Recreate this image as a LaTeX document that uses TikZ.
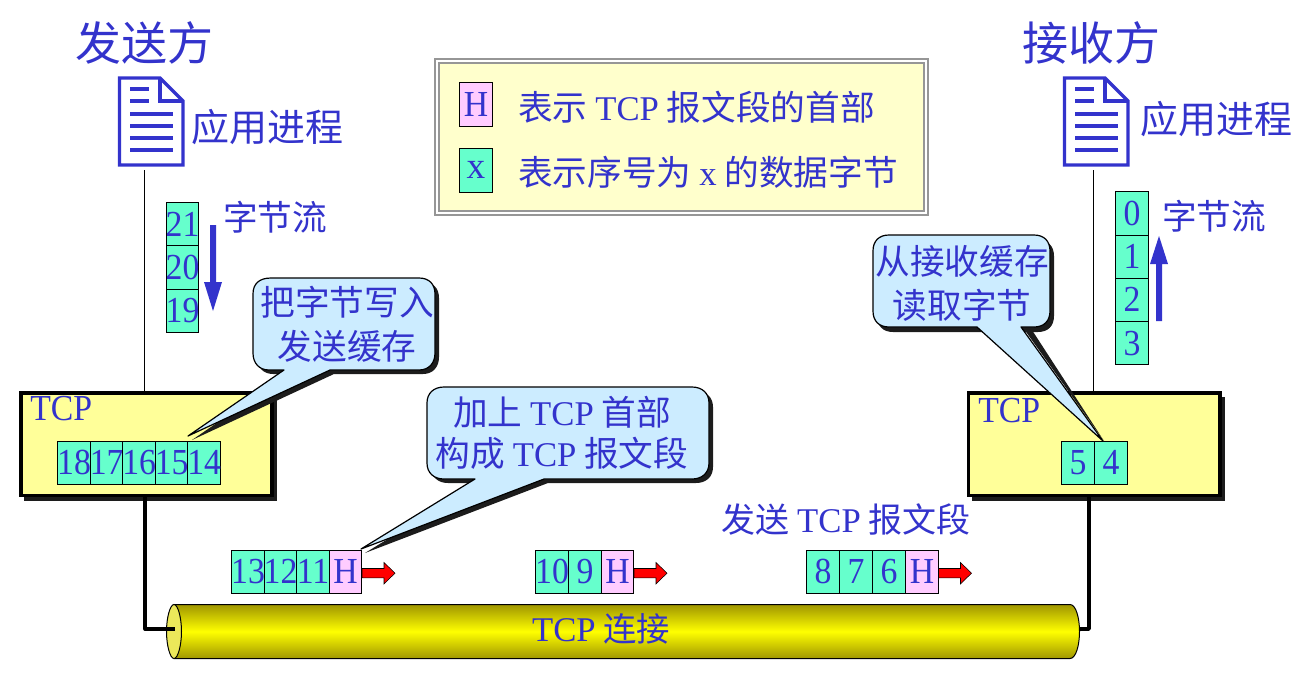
\documentclass[tikz,border=0pt]{standalone}
\usepackage{fontspec}
\setmainfont{Liberation Serif}
\newfontfamily\cjk{Noto Sans CJK SC}
\newfontfamily\narrow[FakeStretch=0.92]{Liberation Serif}
\usetikzlibrary{shadings}
\definecolor{txtblue}{RGB}{51,51,204}
\definecolor{cellgreen}{RGB}{102,255,204}
\definecolor{hpink}{RGB}{255,204,255}
\definecolor{tcpyellow}{RGB}{255,255,153}
\definecolor{legyellow}{RGB}{255,255,204}
\definecolor{callblue}{RGB}{204,236,255}
\definecolor{shadowk}{RGB}{28,28,28}
\definecolor{legborder}{RGB}{150,150,150}
\definecolor{cyl}{RGB}{255,255,0}
\definecolor{cyldark}{RGB}{160,150,0}
\definecolor{cylface}{RGB}{236,232,90}
\tikzset{
 x=0.75pt,y=-0.75pt,
 cell/.style={draw=black,line width=0.75pt,fill=cellgreen,minimum width=24.4pt,minimum height=32.4pt,inner xsep=-2pt,inner ysep=0pt,text=txtblue,font=\narrow\fontsize{27.5pt}{27.5pt}\selectfont,anchor=center},
 hcell/.style={cell,fill=hpink},
 lab/.style={text=txtblue,inner sep=0pt,anchor=center},
 zh/.style={lab,font=\cjk\fontsize{26pt}{33pt}\selectfont,align=center},
 big/.style={lab,font=\cjk\fontsize{34.5pt}{34.5pt}\selectfont},
 tcpbox/.style={draw=black,line width=2.7pt,fill=tcpyellow},
 docline/.style={draw=txtblue,line width=2.4pt},
 thin line/.style={draw=black,line width=0.75pt},
 thick wire/.style={draw=black,line width=2.8pt,line join=round},
 redarrow/.style={draw=black,line width=0.4pt,fill=red},
 bluearrow/.style={fill=txtblue,draw=none},
 call/.style={draw=black,line width=0.9pt,fill=callblue,line join=round},
 shad/.style={fill=shadowk,draw=none}
}
\newcommand{\doc}[1]{%
 \begin{scope}[xshift=#1*0.75pt]
 \path[draw=txtblue,line width=2.6pt,fill=white,line join=miter] (119.5,78) -- (160,78) -- (183,101) -- (183,165) -- (119.5,165) -- cycle;
 \path[draw=txtblue,line width=2.6pt] (160,78) -- (160,101) -- (183,101);
 \path[docline] (130,89) -- (148.5,89);
 \path[docline] (130,101) -- (148.5,101);
 \path[docline] (130,114) -- (173,114);
 \path[docline] (130,126) -- (173,126);
 \path[docline] (130,138) -- (173,138);
 \path[docline] (130,150) -- (173,150);
 \end{scope}}
\newcommand{\calla}{(271,278) -- (419,278) .. controls (429,278) and (435,284) .. (435,294) -- (435,353) .. controls (435,363) and (429,370) .. (419,370) -- (330,370) -- (188,436) -- (284,370) -- (269,370) .. controls (259,370) and (253,363) .. (253,353) -- (253,294) .. controls (253,284) and (259,278) .. (271,278) -- cycle}
\newcommand{\callb}{(444,387) -- (692,387) .. controls (702,387) and (709,393) .. (709,403) -- (709,463) .. controls (709,473) and (702,479) .. (692,479) -- (544,479) -- (361,549) -- (475,479) -- (444,479) .. controls (434,479) and (427,473) .. (427,463) -- (427,403) .. controls (427,393) and (434,387) .. (444,387) -- cycle}
\newcommand{\callc}{(889,235) -- (1034,235) .. controls (1044,235) and (1050,241) .. (1050,251) -- (1050,311) .. controls (1050,321) and (1044,327) .. (1034,327) -- (1021,327) -- (1103,441) -- (977,327) -- (889,327) .. controls (879,327) and (873,321) .. (873,311) -- (873,251) .. controls (873,241) and (879,235) .. (889,235) -- cycle}
\begin{document}
\begin{tikzpicture}
\useasboundingbox (0,0) rectangle (1303,679);
% titles
\node[big] (tsend) at (144.5,43) {发送方};
\node[big] (trecv) at (1091,43) {接收方};
\doc{0}
\doc{945}
\node[zh,font=\cjk\fontsize{28.5pt}{33pt}\selectfont] (asend) at (267,127) {应用进程};
\node[zh,font=\cjk\fontsize{28.5pt}{33pt}\selectfont] (arecv) at (1216,119) {应用进程};
% legend
\path[draw=legborder,line width=1.5pt] (435,59) rectangle (928,215);
\path[draw=legborder,line width=1.5pt,fill=legyellow] (439,63) rectangle (924,211);
\node[hcell,minimum height=33pt] (lh) at (476,104.5) {H};
\node[cell,minimum height=33pt,font=\rmfamily\fontsize{28pt}{28pt}\selectfont] (lx) at (476,170) {x};
\node[lab,font=\cjk\fontsize{26pt}{30pt}\selectfont,anchor=west] (l1) at (518,107.5) {表示 {\rmfamily TCP} 报文段的首部};
\node[lab,font=\cjk\fontsize{26pt}{30pt}\selectfont,anchor=west] (l2) at (518,172.5) {表示序号为 {\rmfamily x} 的数据字节};
% vertical thin lines
\coordinate (ls1) at (144.5,170); \coordinate (ls2) at (144.5,391);
\coordinate (lr1) at (1093.5,170); \coordinate (lr2) at (1093.5,391);
\path[thin line] (ls1) -- (ls2);
\path[thin line] (lr1) -- (lr2);
% wire points
\coordinate (w1) at (145.3,497); \coordinate (w2) at (145.3,629); \coordinate (w3) at (175,629);
\coordinate (w4) at (1089,497); \coordinate (w5) at (1089,629); \coordinate (w6) at (1079,629);
% tcp boxes
\path[shad] (24,397) rectangle (276.7,500.7);
\path[tcpbox] (20.8,392.7) rectangle (272,495.3);
\path[shad] (972,397) rectangle (1225,500.7);
\path[tcpbox] (968.3,392.7) rectangle (1220,495.3);
\path[thick wire] (w4) -- (w5) -- (w6);
\path[thick wire] (w1) -- (w2) -- (w3);
% cylinder
\path[top color=cyldark,bottom color=cyldark,middle color=cyl,draw=black,line width=0.75pt]
 (174,604.5) -- (1070,604.5) .. controls (1076,604.5) and (1079.5,618) .. (1079.5,631.5) .. controls (1079.5,645) and (1076,658.5) .. (1070,658.5) -- (174,658.5) -- cycle;
\path[draw=black,line width=0.75pt,fill=cylface] (174,604.5) .. controls (170,604.5) and (166.5,618) .. (166.5,631.5) .. controls (166.5,645) and (170,658.5) .. (174,658.5) .. controls (178,658.5) and (181.5,645) .. (181.5,631.5) .. controls (181.5,618) and (178,604.5) .. (174,604.5) -- cycle;
\path[thick wire] (145.3,629) -- (w3);
\node[lab,font=\cjk\fontsize{25pt}{30pt}\selectfont] (tcpc) at (601,629) {{\rmfamily\fontsize{26pt}{26pt}\selectfont TCP} 连接};
% stream left
\node[cell] (c21) at (182.5,224) {21};
\node[cell] (c20) at (182.5,267.5) {20};
\node[cell] (c19) at (182.5,310.8) {19};
\node[zh] (sl) at (275,217) {字节流};
\path[bluearrow] (210,225) -- (216,225) -- (216,282) -- (222,282) -- (213,311) -- (204,282) -- (210,282) -- cycle;
% stream right
\node[cell] (c0) at (1132,213.5) {0};
\node[cell] (c1) at (1132,256.8) {1};
\node[cell] (c2) at (1132,299.8) {2};
\node[cell] (c3) at (1132,343.3) {3};
\node[zh] (sr) at (1214,216) {字节流};
\path[bluearrow] (1156,321) -- (1162,321) -- (1162,264) -- (1168,264) -- (1159,236) -- (1150,264) -- (1156,264) -- cycle;
% buffers
\node[cell] (b18) at (74,462.7) {18};
\node[cell] (b17) at (106.7,462.7) {17};
\node[cell] (b16) at (139.2,462.7) {16};
\node[cell] (b15) at (171.7,462.7) {15};
\node[cell] (b14) at (204.2,462.7) {14};
\node[cell] (b5) at (1078,462.7) {5};
\node[cell] (b4) at (1111,462.7) {4};
\node[lab,font=\narrow\fontsize{27.5pt}{27.5pt}\selectfont,anchor=west] (t1) at (30,409) {TCP};
\node[lab,font=\narrow\fontsize{27.5pt}{27.5pt}\selectfont,anchor=west] (t2) at (978,411) {TCP};
% segments
\node[cell] (s13) at (248,571.7) {13};
\node[cell] (s12) at (280.5,571.7) {12};
\node[cell] (s11) at (313,571.7) {11};
\node[hcell] (sh1) at (345.5,571.7) {H};
\node[cell] (s10) at (552,571.7) {10};
\node[cell] (s9) at (585,571.7) {9};
\node[hcell] (sh2) at (617.5,571.7) {H};
\node[cell] (s8) at (823,571.7) {8};
\node[cell] (s7) at (856,571.7) {7};
\node[cell] (s6) at (889,571.7) {6};
\node[hcell] (sh3) at (922,571.7) {H};
\newcommand{\redarr}[1]{\path[redarrow] (#1,568.5) -- ++(22,0) -- ++(0,-6) -- ++(11,10.7) -- ++(-11,10.7) -- ++(0,-6) -- ++(-22,0) -- cycle;}
\redarr{362}\redarr{634}\redarr{938.5}
\node[lab,font=\cjk\fontsize{25.5pt}{30pt}\selectfont] (seg) at (846,520) {发送 {\rmfamily\fontsize{26pt}{26pt}\selectfont TCP} 报文段};
% callout 1
\begin{scope}[shift={(4,4)}]\path[shad] \calla;\end{scope}
\path[call] \calla;
\node[zh] (c1t) at (347,324.5) {把字节写入\\发送缓存};
% callout 2
\begin{scope}[shift={(4,4)}]\path[shad] \callb;\end{scope}
\path[call] \callb;
\node[lab,font=\cjk\fontsize{26pt}{30.5pt}\selectfont,align=center] (c2t) at (562,433) {加上 {\rmfamily TCP} 首部\\构成 {\rmfamily TCP} 报文段};
% callout 3
\path[shad] (893,240) -- (1038,240) .. controls (1048,240) and (1054,246) .. (1054,256) -- (1054,316) .. controls (1054,326) and (1048,332) .. (1038,332) -- (893,332) .. controls (883,332) and (877,326) .. (877,316) -- (877,256) -- cycle;
\path[shad] (1022.5,327) -- (1104,441) -- (1030,327) -- cycle;
\path[call] \callc;
\node[zh] (c3t) at (962,283) {从接收缓存\\读取字节};
\end{tikzpicture}
\end{document}
